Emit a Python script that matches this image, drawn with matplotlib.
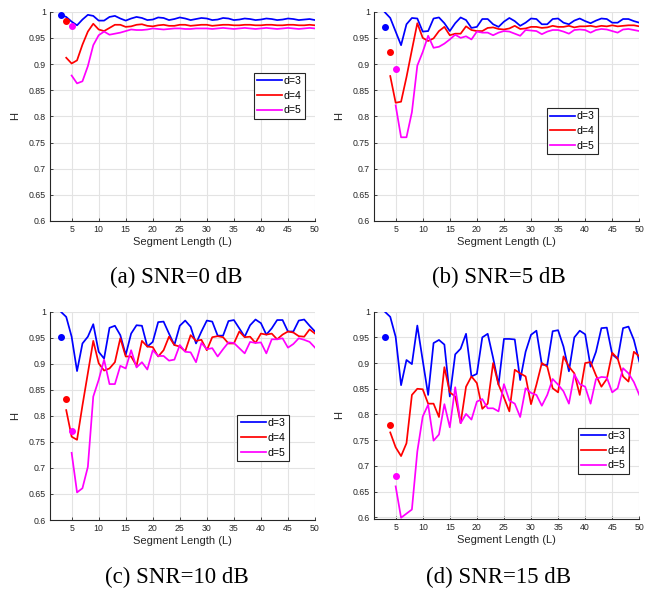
import numpy as np
import matplotlib
matplotlib.use("Agg")
import matplotlib.pyplot as plt

plt.rcParams["font.family"] = ["Liberation Sans", "DejaVu Sans"]

# segment lengths for each embedding dimension
L_d3 = np.arange(3, 51)
L_d4 = np.arange(4, 51)
L_d5 = np.arange(5, 51)

# SNR = 0 dB
H_a_d3 = [0.994, 0.990, 0.981, 0.974, 0.985, 0.994, 0.992, 0.983,
          0.983, 0.990, 0.992, 0.987, 0.983, 0.987, 0.990, 0.988,
          0.984, 0.985, 0.989, 0.988, 0.984, 0.986, 0.989, 0.987,
          0.984, 0.986, 0.988, 0.987, 0.984, 0.985, 0.988, 0.987,
          0.984, 0.985, 0.987, 0.986, 0.984, 0.985, 0.987, 0.986,
          0.984, 0.985, 0.987, 0.986, 0.984, 0.985, 0.986, 0.984]
H_a_d4 = [0.912,
          0.901, 0.907, 0.937, 0.962, 0.977, 0.966, 0.963, 0.969,
          0.975, 0.975, 0.971, 0.972, 0.975, 0.976, 0.973, 0.972,
          0.974, 0.975, 0.973, 0.973, 0.975, 0.975, 0.973, 0.974,
          0.975, 0.975, 0.973, 0.974, 0.975, 0.975, 0.974, 0.974,
          0.975, 0.975, 0.974, 0.974, 0.975, 0.975, 0.974, 0.974,
          0.975, 0.975, 0.974, 0.974, 0.975, 0.974]
H_a_d5 = [0.878, 0.863, 0.867, 0.896, 0.936, 0.955, 0.962, 0.956,
          0.958, 0.960, 0.963, 0.966, 0.965, 0.965, 0.966, 0.968,
          0.967, 0.966, 0.967, 0.968, 0.968, 0.967, 0.967, 0.968,
          0.968, 0.968, 0.967, 0.968, 0.969, 0.968, 0.967, 0.968,
          0.969, 0.968, 0.967, 0.968, 0.969, 0.968, 0.967, 0.968,
          0.969, 0.968, 0.967, 0.968, 0.969, 0.968]

# SNR = 5 dB
H_b_d3 = [0.999, 0.988, 0.962, 0.936, 0.976, 0.988, 0.987, 0.962,
          0.963, 0.987, 0.989, 0.978, 0.963, 0.978, 0.989, 0.984,
          0.969, 0.971, 0.986, 0.986, 0.976, 0.971, 0.981, 0.988,
          0.982, 0.973, 0.979, 0.987, 0.986, 0.976, 0.976, 0.986,
          0.987, 0.979, 0.976, 0.983, 0.987, 0.982, 0.978, 0.983,
          0.987, 0.986, 0.979, 0.979, 0.986, 0.986, 0.982, 0.979]
H_b_d4 = [0.877,
          0.826, 0.828, 0.875, 0.927, 0.978, 0.950, 0.944, 0.949,
          0.963, 0.971, 0.955, 0.958, 0.958, 0.972, 0.965, 0.963,
          0.963, 0.969, 0.970, 0.967, 0.966, 0.968, 0.973, 0.967,
          0.968, 0.971, 0.971, 0.969, 0.970, 0.973, 0.971, 0.971,
          0.973, 0.970, 0.972, 0.972, 0.973, 0.971, 0.973, 0.972,
          0.974, 0.972, 0.973, 0.974, 0.974, 0.972]
H_b_d5 = [0.821, 0.760, 0.760, 0.808, 0.897, 0.923, 0.954, 0.931,
          0.933, 0.939, 0.947, 0.956, 0.950, 0.953, 0.947, 0.962,
          0.960, 0.960, 0.955, 0.960, 0.963, 0.962, 0.958, 0.954,
          0.965, 0.964, 0.963, 0.957, 0.962, 0.965, 0.965, 0.962,
          0.958, 0.965, 0.966, 0.965, 0.960, 0.965, 0.967, 0.966,
          0.963, 0.960, 0.966, 0.967, 0.965, 0.963]

# SNR = 10 dB
H_c_d3 = [1.000, 0.990, 0.952, 0.886, 0.939, 0.952, 0.976, 0.923,
          0.910, 0.969, 0.973, 0.955, 0.917, 0.958, 0.974, 0.973,
          0.933, 0.942, 0.980, 0.981, 0.958, 0.936, 0.973, 0.983,
          0.971, 0.939, 0.962, 0.983, 0.981, 0.954, 0.954, 0.982,
          0.984, 0.968, 0.952, 0.974, 0.985, 0.978, 0.956, 0.968,
          0.984, 0.984, 0.962, 0.962, 0.983, 0.985, 0.973, 0.962]
H_c_d4 = [0.811,
          0.760, 0.754, 0.820, 0.882, 0.944, 0.901, 0.887, 0.891,
          0.903, 0.949, 0.914, 0.914, 0.896, 0.944, 0.933, 0.932,
          0.914, 0.926, 0.952, 0.936, 0.933, 0.924, 0.955, 0.944,
          0.946, 0.926, 0.951, 0.953, 0.951, 0.939, 0.939, 0.962,
          0.951, 0.952, 0.940, 0.958, 0.956, 0.958, 0.947, 0.956,
          0.962, 0.960, 0.953, 0.952, 0.966, 0.958]
H_c_d5 = [0.729, 0.653, 0.661, 0.702, 0.837, 0.869, 0.908, 0.861,
          0.861, 0.896, 0.891, 0.926, 0.893, 0.903, 0.889, 0.926,
          0.915, 0.915, 0.906, 0.908, 0.936, 0.923, 0.922, 0.903,
          0.940, 0.928, 0.930, 0.914, 0.928, 0.941, 0.940, 0.930,
          0.920, 0.942, 0.940, 0.941, 0.920, 0.947, 0.947, 0.949,
          0.931, 0.938, 0.949, 0.946, 0.942, 0.931]

# SNR = 15 dB
H_d_d3 = [1.000, 0.990, 0.951, 0.857, 0.906, 0.898, 0.973, 0.905,
          0.838, 0.939, 0.945, 0.936, 0.835, 0.917, 0.928, 0.957,
          0.874, 0.879, 0.950, 0.957, 0.910, 0.858, 0.947, 0.947,
          0.946, 0.867, 0.922, 0.955, 0.963, 0.897, 0.896, 0.962,
          0.964, 0.932, 0.884, 0.950, 0.963, 0.956, 0.893, 0.922,
          0.968, 0.969, 0.917, 0.908, 0.968, 0.971, 0.945, 0.903]
H_d_d4 = [0.765,
          0.736, 0.719, 0.744, 0.838, 0.850, 0.849, 0.821, 0.821,
          0.795, 0.892, 0.843, 0.835, 0.783, 0.854, 0.874, 0.861,
          0.811, 0.821, 0.900, 0.858, 0.833, 0.806, 0.887, 0.880,
          0.874, 0.820, 0.858, 0.900, 0.893, 0.851, 0.843, 0.913,
          0.893, 0.880, 0.838, 0.900, 0.902, 0.876, 0.854, 0.869,
          0.920, 0.909, 0.874, 0.864, 0.922, 0.913]
H_d_d5 = [0.660, 0.599, 0.607, 0.615, 0.728, 0.796, 0.819, 0.749,
          0.761, 0.820, 0.775, 0.853, 0.783, 0.801, 0.790, 0.825,
          0.830, 0.812, 0.812, 0.806, 0.859, 0.827, 0.821, 0.795,
          0.851, 0.842, 0.838, 0.817, 0.838, 0.869, 0.858, 0.845,
          0.821, 0.878, 0.859, 0.854, 0.821, 0.869, 0.873, 0.872,
          0.843, 0.851, 0.890, 0.880, 0.863, 0.838]

# single reference values (d=3 at L=3, d=4 at L=4, d=5 at L=5)
ref_L = [3, 4, 5]
ref_a = [0.993, 0.983, 0.973]
ref_b = [0.970, 0.923, 0.891]
ref_c = [0.952, 0.832, 0.771]
ref_d = [0.951, 0.780, 0.680]

captions = ["(a) SNR=0 dB", "(b) SNR=5 dB", "(c) SNR=10 dB", "(d) SNR=15 dB"]
labels = ["d=3", "d=4", "d=5"]
colors = ["#0000ff", "#ff0000", "#ff00ff"]
xticks = np.arange(5, 51, 5)
yticks = np.arange(0.6, 1.001, 0.05)

W, Hpx = 661, 590
fig = plt.figure(figsize=(W / 100, Hpx / 100), dpi=100)


def px_axes(left, top, right, bottom):
    return fig.add_axes([left / W, 1 - bottom / Hpx, (right - left) / W, (bottom - top) / Hpx])


panels = [
    dict(box=(50, 11.7, 315, 221), data=(H_a_d3, H_a_d4, H_a_d5), ref=ref_a,
         ymin=0.6, leg=(0.962, 0.708), cap=(176, 277)),
    dict(box=(374, 11.7, 639.3, 221), data=(H_b_d3, H_b_d4, H_b_d5), ref=ref_b,
         ymin=0.6, leg=(0.844, 0.539), cap=(499, 277)),
    dict(box=(50, 311.7, 315, 520), data=(H_c_d3, H_c_d4, H_c_d5), ref=ref_c,
         ymin=0.6, leg=(0.90, 0.504), cap=(177, 577)),
    dict(box=(374, 311.7, 639.3, 519), data=(H_d_d3, H_d_d4, H_d_d5), ref=ref_d,
         ymin=0.5965, leg=(0.961, 0.44), cap=(499, 577)),
]

axcol = "#262626"
for p, cap in zip(panels, captions):
    ax = px_axes(*p["box"])
    for L, H, c, lab in zip((L_d3, L_d4, L_d5), p["data"], colors, labels):
        ax.plot(L, H, color=c, lw=1.25, label=lab)
    for L, v, c in zip(ref_L, p["ref"], colors):
        ax.plot(L, v, "o", color=c, ms=4, mec=c)

    ax.set_xlim(1, 50)
    ax.set_ylim(p["ymin"], 1)
    ax.set_xticks(xticks)
    ax.set_yticks(yticks)
    ax.set_yticklabels([f"{v:g}" for v in np.round(yticks, 2)])
    ax.grid(True, color="#e3e3e3", lw=0.8)
    ax.set_axisbelow(True)
    for s in ("top", "right"):
        ax.spines[s].set_visible(False)
    for s in ("left", "bottom"):
        ax.spines[s].set_color(axcol)
        ax.spines[s].set_linewidth(0.8)
    ax.tick_params(direction="in", length=2.5, width=0.6, colors=axcol,
                   labelsize=6.3, pad=3)
    ax.set_xlabel("Segment Length (L)", fontsize=8, color=axcol, labelpad=2)
    ax.set_ylabel("H", fontsize=8, color=axcol, labelpad=6)

    leg = ax.legend(loc="upper right", bbox_to_anchor=p["leg"], fontsize=7.6,
                    handlelength=2.4, handletextpad=0.15, borderpad=0.3,
                    labelspacing=0.45, fancybox=False, framealpha=1,
                    borderaxespad=0)
    leg.get_frame().set_edgecolor("#262626")
    leg.get_frame().set_linewidth(0.8)

    fig.text(p["cap"][0] / W, 1 - p["cap"][1] / Hpx, cap, ha="center", va="center",
             fontsize=16.5, family=["Liberation Serif", "DejaVu Serif"])

fig.savefig("out.png", dpi=100)
